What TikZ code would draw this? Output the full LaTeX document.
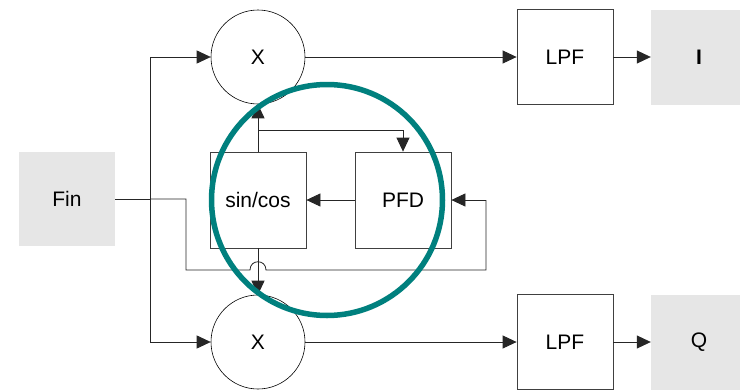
\documentclass[tikz,border=0pt]{standalone}
\usepackage{fontspec}
\setmainfont{Liberation Sans}
\usetikzlibrary{arrows.meta}
\definecolor{tealring}{RGB}{0,128,126}
\definecolor{boxgray}{RGB}{230,230,230}
\begin{document}
\begin{tikzpicture}[x=1pt,y=-1pt,
  lbl/.style={font=\fontsize{21}{24}\selectfont},
  wbox/.style={lbl,draw=black!75,fill=white,line width=0.8pt,minimum width=96pt,minimum height=95pt,inner sep=0pt},
  gbox/.style={lbl,fill=boxgray,draw=none,minimum width=96pt,minimum height=95pt,inner sep=0pt},
  mix/.style={lbl,circle,draw=black,fill=white,line width=0.6pt,minimum size=94pt,inner sep=0pt},
  wire/.style={draw=black!85,line width=0.8pt},
  arr/.style={wire,-{Triangle[length=14pt,width=13pt]}}]
\useasboundingbox[fill=white] (0,0) rectangle (740,391);
\begin{scope}
\clip (0,0) rectangle (740,391);
\node[gbox,minimum height=94pt] (fin) at (67,199) {Fin};
\node[wbox,minimum height=96pt] (sc) at (258,200) {sin/cos};
\node[wbox,minimum height=96pt] (pfd) at (403,200) {PFD};
\node[mix] (m1) at (258,57) {X};
\node[mix] (m2) at (258,342) {X};
\node[wbox] (l1) at (565,57) {LPF};
\node[wbox] (l2) at (565,342) {LPF};
\node[gbox] (oi) at (699,57) {\bfseries I};
\node[gbox] (oq) at (699,342) {Q};
\end{scope}
\coordinate (sp) at (150,199);
\coordinate (fa) at (186,199);
\coordinate (fb) at (186,270);
\coordinate (h1) at (250,270);
\coordinate (h2) at (266,270);
\coordinate (fc) at (486,270);
\coordinate (fd) at (486,200);
\coordinate (br) at (258,130);
\draw[wire] (fin.east) -- (sp);
\draw[arr] (sp) |- (m1.west);
\draw[arr] (sp) |- (m2.west);
\draw[wire] (sp) -- (fa) -- (fb) -- (h1) .. controls (250,259) and (266,259) .. (h2) -- (fc) -- (fd);
\draw[arr] (fd) -- (pfd.east);
\draw[arr] (sc.north) -- (m1.south);
\draw[arr] (br) -| (pfd.north);
\draw[arr] (pfd.west) -- (sc.east);
\draw[arr] (sc.south) -- (m2.north);
\draw[arr] (m1.east) -- (l1.west);
\draw[arr] (l1.east) -- (oi.west);
\draw[arr] (m2.east) -- (l2.west);
\draw[arr] (l2.east) -- (oq.west);
\node[circle,draw=tealring,line width=5.5pt,minimum size=231pt,inner sep=0pt] (ring) at (327,200) {};
\end{tikzpicture}
\end{document}
